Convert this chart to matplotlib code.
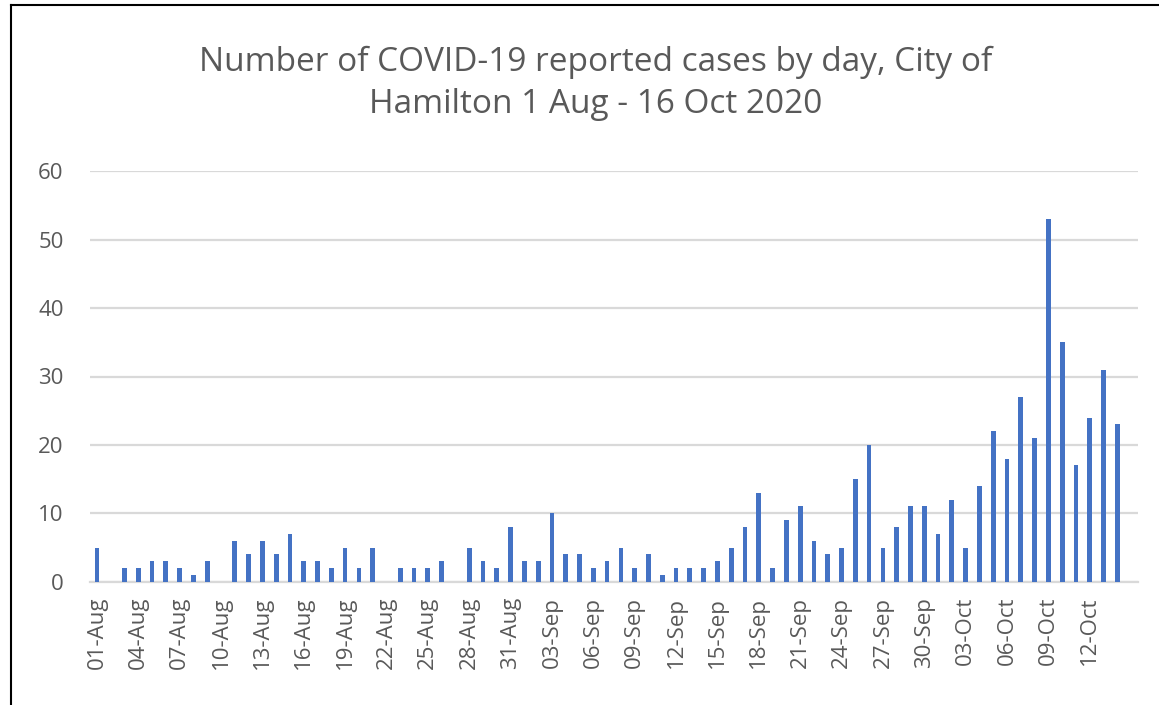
import pandas as pd
from matplotlib import pyplot as plt

# daily reported cases, 01-Aug to 14-Oct 2020
cases = [5, 0, 2, 2, 3, 3, 2, 1, 3, 0,
         6, 4, 6, 4, 7, 3, 3, 2, 5, 2,
         5, 0, 2, 2, 2, 3, 0, 5, 3, 2,
         8, 3, 3, 10, 4, 4, 2, 3, 5, 2,
         4, 1, 2, 2, 2, 3, 5, 8, 13, 2,
         9, 11, 6, 4, 5, 15, 20, 5, 8, 11,
         11, 7, 12, 5, 14, 22, 18, 27, 21, 53,
         35, 17, 24, 31, 23]
days = pd.date_range("2020-08-01", periods=76, freq="D")
day_labels = [d.strftime("%d-%b") for d in days]
title = "Number of COVID-19 reported cases by day, City of\nHamilton 1 Aug - 16 Oct 2020"

grey = "#595959"
plt.rcParams["font.family"] = "Open Sans"

fig = plt.figure(figsize=(11.59, 7.05), dpi=100)
ax = fig.add_axes([90 / 1159, 123.3 / 705, 1048 / 1159, 410.4 / 705])

ax.bar(range(len(cases)), cases, width=0.34, color="#4472C4", zorder=3)

ax.set_xlim(-0.5, len(days) - 0.5)
ax.set_ylim(0, 60)
ax.set_yticks(range(0, 61, 10))
ax.set_xticks(range(0, len(days) - 1, 3))
ax.set_xticklabels(day_labels[0:len(days) - 1:3], rotation=90, va="top", ha="center")
ax.tick_params(axis="both", length=0, labelsize=16, labelcolor=grey)
ax.tick_params(axis="y", pad=19)
ax.tick_params(axis="x", pad=11)

ax.grid(axis="y", color="#d9d9d9", linewidth=1.6, zorder=0)
for s in ["top", "right", "left"]:
    ax.spines[s].set_visible(False)
ax.spines["bottom"].set_color("#d9d9d9")
ax.spines["bottom"].set_linewidth(1.6)

fig.text(596 / 1159, 1 - 83 / 705, title, ha="center", va="center",
         fontsize=24, color=grey, linespacing=1.36)

# frame lines of the original screenshot
fig.add_artist(plt.Line2D([10.5 / 1159, 10.5 / 1159], [0, 1 - 5 / 705], color="black", linewidth=1.5))
fig.add_artist(plt.Line2D([10.5 / 1159, 1], [1 - 5 / 705, 1 - 5 / 705], color="black", linewidth=1.5))

plt.savefig("out.png")
